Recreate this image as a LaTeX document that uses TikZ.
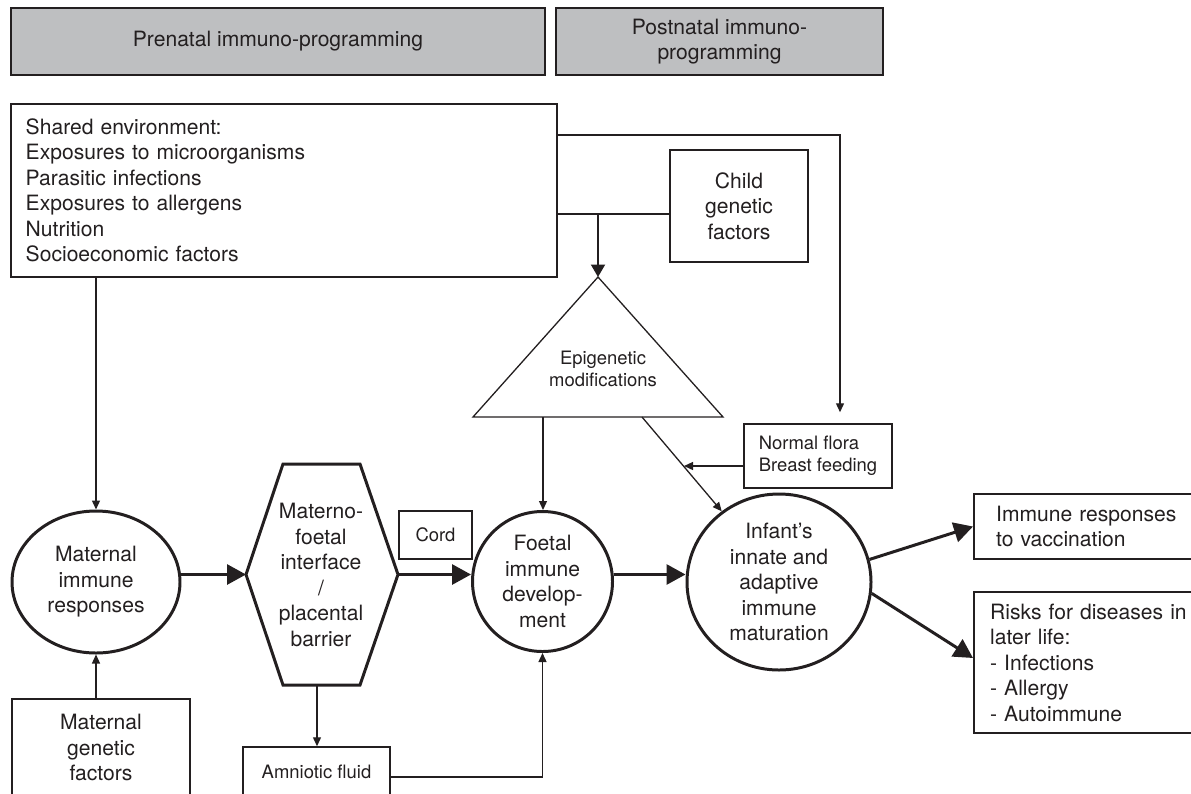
\documentclass[tikz,border=0pt]{standalone}
\usepackage{fontspec}
\setmainfont{TeX Gyre Heros}
\usepackage{tikz}
\usetikzlibrary{arrows.meta,shapes.geometric}
\definecolor{Cink}{RGB}{35,31,32}
\definecolor{Chead}{RGB}{190,191,193}
\newcommand{\txtbig}{\fontsize{12}{14.5}\selectfont}
\newcommand{\txtsmall}{\fontsize{10.5}{12.5}\selectfont}

\begin{document}
\begin{tikzpicture}[x=0.2mm, y=-0.2mm,
      hdr/.style={draw=Cink, fill=Chead, line width=1.1pt, text=Cink,
                  minimum height=1.34cm, align=center, font=\txtbig},
      bx/.style={draw=Cink, line width=1.1pt, text=Cink,
                 align=center, font=\txtbig},
      bxr/.style={draw=Cink, line width=1.3pt, text=Cink, anchor=west,
                  minimum width=5cm, align=left, font=\txtbig},
      sbx/.style={draw=Cink, line width=0.85pt, text=Cink,
                  align=center, font=\txtsmall},
      ov/.style={draw=Cink, line width=1.7pt, text=Cink, inner sep=0pt,
                 align=center, font=\txtbig},
      arrbig/.style={draw=Cink, line width=1.7pt,
                     -{Triangle[length=0.38cm, width=0.4cm]}},
      arrmid/.style={draw=Cink, line width=1.1pt,
                     -{Triangle[length=0.25cm, width=0.28cm]}},
      arrthin/.style={draw=Cink, line width=0.74pt,
                      -{Triangle[length=0.18cm, width=0.16cm]}}]
    \useasboundingbox (0,0) rectangle (1191,793);
    % Headers
    \node[hdr, minimum width=10.68cm] (pre)  at (278,41.5)   {Prenatal immuno-programming};
    \node[hdr, minimum width=6.54cm]  (post) at (719.5,41.5) {Postnatal immuno-\\programming};
    % Boxes
    \node[bx, text width=10.33cm, inner xsep=0.29cm, minimum height=3.46cm, align=left]
      (env) at (284,190.5)
      {Shared environment:\\Exposures to microorganisms\\Parasitic infections\\Exposures to allergens\\Nutrition\\Socioeconomic factors};
    \node[bx, minimum width=2.76cm, minimum height=2.24cm] (child) at (739,206) {Child\\genetic\\factors};
    \node[bx, minimum width=3.56cm, minimum height=1.94cm] (mgen)  at (101,747.5) {Maternal\\genetic\\factors};
    \node[sbx, minimum width=2.96cm, minimum height=1.28cm, align=left] (flora) at (818,456) {Normal flora\\Breast feeding};
    \node[sbx, minimum width=1.46cm, minimum height=0.96cm] (cord) at (435.5,535) {Cord};
    \node[sbx, minimum width=2.94cm, minimum height=1.0cm] (amn)  at (316.5,772) {Amniotic fluid};
    % right-hand boxes run past the page edge
    \node[bxr, minimum height=1.3cm, text width=4.12cm, inner xsep=0.44cm]  (vac)  at (973,526.5)
      {Immune responses\\to vaccination};
    \node[bxr, minimum height=2.82cm, text width=4.36cm, inner xsep=0.32cm] (risk) at (973,662.5)
      {Risks for diseases in\\later life:\\- Infections\\- Allergy\\- Autoimmune};
    % Ovals
    \node[ov, ellipse, minimum width=3.36cm, minimum height=2.84cm] (mat) at (96,582) {Maternal\\immune\\responses};
    \node[ov, circle, minimum size=2.8cm] (foet) at (542.5,581.5) {Foetal\\immune\\develop-\\ment};
    \node[ov, ellipse, minimum width=3.68cm, minimum height=3.52cm] (inf) at (779,582)
      {Infant’s\\innate and\\adaptive\\immune\\maturation};
    % Epigenetic triangle
    \coordinate (epiT) at (598,277);
    \coordinate (epiL) at (473,417);
    \coordinate (epiR) at (723,417);
    \coordinate (epiA) at (543,417);
    \coordinate (epiB) at (642,417);
    \draw[draw=Cink, line width=0.74pt] (epiT) -- (epiL) -- (epiR) -- cycle;
    \node[text=Cink, font=\txtsmall, align=center] (epi) at (603,369) {Epigenetic\\modifications};
    % Materno-foetal hexagon
    \coordinate (mfiA) at (283,464);
    \coordinate (mfiB) at (360,464);
    \coordinate (mfiR) at (398,574.5);
    \coordinate (mfiC) at (360,685);
    \coordinate (mfiD) at (283,685);
    \coordinate (mfiL) at (246,574.5);
    \coordinate (mfiS) at (317,685);
    \draw[draw=Cink, line width=1.7pt, line join=miter]
      (mfiA) -- (mfiB) -- (mfiR) -- (mfiC) -- (mfiD) -- (mfiL) -- cycle;
    \node[text=Cink, font=\txtbig, align=center] (mfi) at (321,575)
      {Materno-\\foetal\\interface\\/\\placental\\barrier};
    % Thin connectors
    \draw[arrthin] (env.south -| mat.north) -- (mat.north);
    \draw[arrthin] (mgen.north -| mat.south) -- (mat.south);
    \draw[arrthin] (mfiS) -- (mfiS |- amn.north);
    \draw[arrthin] ([yshift=-0.1cm]amn.east) -| (foet.south);
    \draw[arrthin] (epiA) -- (epiA |- foet.north);
    \draw[arrthin] (epiB) -- (inf.129);
    \coordinate (fb) at (684,466);
    \draw[arrthin] (fb -| flora.west) -- (fb);
    \draw[arrthin, shorten >=0.22cm] ([yshift=-0.64cm]env.north east) -| ([xshift=0.44cm]flora.north);
    % Child genetic factors into the triangle
    \coordinate (jn) at (598,214);
    \draw[draw=Cink, line width=1.1pt] (env.east |- jn) -- (child.west |- jn);
    \draw[arrmid] (jn) -- (epiT);
    % Main chain
    \draw[arrbig] (mfiL -| mat.east) -- (mfiL);
    \draw[arrbig] (mfiR) -- (mfiR -| foet.west);
    \draw[arrbig] (mfiR -| foet.east) -- (mfiR -| inf.west);
    \draw[arrbig] (inf.14) -- (vac.west);
    \draw[arrbig] (inf.-7) -- ([yshift=0.09cm]risk.west);
\end{tikzpicture}
\end{document}
